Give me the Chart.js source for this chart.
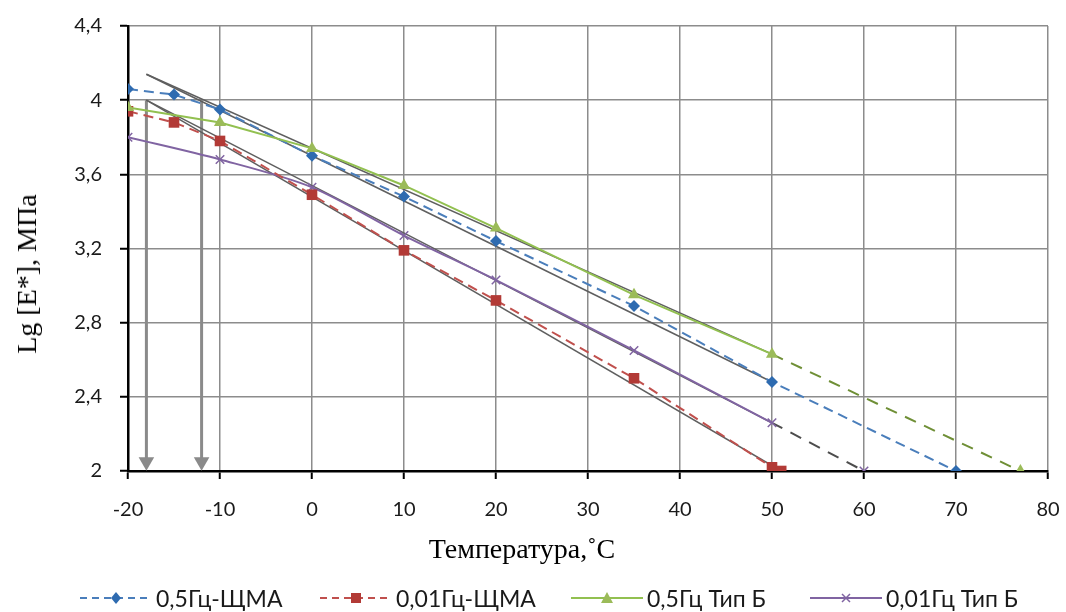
<!DOCTYPE html>
<html>
<head>
<meta charset="utf-8">
<script src="https://cdn.jsdelivr.net/npm/chart.js@4.4.0/dist/chart.umd.min.js"></script>
<style>
  body { margin: 0; background: #fff; }
  #wrap { position: relative; width: 1066px; height: 612px; overflow: hidden; }
  #c { position: absolute; left: 0; top: 0; }
  .ttl { position: absolute; font-family: "Liberation Serif", "Times New Roman", serif; color: #000; white-space: nowrap; }
  #ytitle { left: 27px; top: 274px; font-size: 28px; transform: translate(-50%, -50%) rotate(-90deg); }
  #xtitle { left: 522px; top: 549px; font-size: 28px; transform: translate(-50%, -50%); }
  .lg { position: absolute; top: 585px; height: 26px; display: flex; align-items: center;
        font-family: Lato, "Open Sans", sans-serif; font-size: 23px; color: #1a1a1a; white-space: nowrap; }
  .lg svg { margin-right: 4px; }
</style>
</head>
<body>
<div id="wrap">
  <canvas id="c" width="1066" height="612"></canvas>
  <div class="ttl" id="ytitle">Lg [E*], МПа</div>
  <div class="ttl" id="xtitle">Температура,˚С</div>
  <div id="legend"></div>
</div>
<script>
// Значения
const tempShma05 = [-20, -15, -10, 0, 10, 20, 35, 50, 70];
const lgShma05 = [4.06, 4.03, 3.95, 3.70, 3.48, 3.24, 2.89, 2.48, 2.00];

const tempShma001 = [-20, -15, -10, 0, 10, 20, 35, 50, 51];
const lgShma001 = [3.94, 3.88, 3.78, 3.49, 3.19, 2.92, 2.50, 2.02, 2.00];

const tempTipB05 = [-20, -10, 0, 10, 20, 35, 50, 77];
const lgTipB05 = [3.96, 3.88, 3.74, 3.54, 3.31, 2.95, 2.63, 2.00];

const tempTipB001 = [-20, -10, 0, 10, 20, 35, 50, 60];
const lgTipB001 = [3.80, 3.68, 3.53, 3.27, 3.03, 2.65, 2.26, 2.00];

// линии тренда (начало и конец)
const trendShma05T = [-18, 50];
const trendShma05 = [4.14, 2.48];
const trendShma001T = [-18, 51];
const trendShma001 = [4.00, 2.00];
const trendTipB05T = [-18, 50];
const trendTipB05 = [4.14, 2.63];
const trendTipB001T = [-18, 50];
const trendTipB001 = [4.00, 2.26];

// стрелки вниз
const arrowT = [-18, -12];
const arrowLg = [4.00, 2.05];

const seriesNames = ['0,5Гц-ЩМА', '0,01Гц-ЩМА', '0,5Гц Тип Б', '0,01Гц Тип Б'];
const xTicks = [-20, -10, 0, 10, 20, 30, 40, 50, 60, 70, 80];

const toPts = (xs, ys) => xs.map((x, i) => ({ x: x, y: ys[i] }));
const lastSeg = (n, a, b) => ctx => (ctx.p1DataIndex === n - 1 ? a : b);

const trendStyle = {
  borderColor: '#5f5f5f', borderWidth: 1.5, pointRadius: 0, fill: false, order: 10
};

const datasets = [
  {
    label: seriesNames[0], data: toPts(tempShma05, lgShma05),
    borderColor: '#4a7ebb', backgroundColor: '#2e6bb0', borderWidth: 2, borderDash: [10, 6],
    pointStyle: 'rectRot', pointRadius: 6, pointBorderWidth: 0, order: 1
  },
  {
    label: seriesNames[1], data: toPts(tempShma001, lgShma001),
    borderColor: '#c0504d', backgroundColor: '#b23a36', borderWidth: 2, borderDash: [10, 6],
    pointStyle: 'rect', pointRadius: 7.5, pointBorderWidth: 0, order: 2
  },
  {
    label: seriesNames[2], data: toPts(tempTipB05, lgTipB05),
    borderColor: '#92c050', backgroundColor: '#9bbb59', borderWidth: 2,
    pointStyle: 'triangle', pointRadius: 7, pointBorderWidth: 0, order: 0,
    segment: {
      borderColor: lastSeg(tempTipB05.length, '#6f8f36', undefined),
      borderDash: lastSeg(tempTipB05.length, [12, 9], undefined)
    }
  },
  {
    label: seriesNames[3], data: toPts(tempTipB001, lgTipB001),
    borderColor: '#8064a2', backgroundColor: '#8064a2', pointBorderColor: '#8064a2', borderWidth: 2,
    pointStyle: 'crossRot', pointRadius: 6, pointBorderWidth: 1.5, tension: 0.3, order: 3,
    segment: {
      borderColor: lastSeg(tempTipB001.length, '#4d4d4d', undefined),
      borderDash: lastSeg(tempTipB001.length, [12, 9], undefined)
    }
  },
  Object.assign({ label: 'trend1', data: toPts(trendShma05T, trendShma05) }, trendStyle),
  Object.assign({ label: 'trend2', data: toPts(trendShma001T, trendShma001) }, trendStyle),
  Object.assign({ label: 'trend3', data: toPts(trendTipB05T, trendTipB05) }, trendStyle),
  Object.assign({ label: 'trend4', data: toPts(trendTipB001T, trendTipB001) }, trendStyle)
];

arrowT.forEach((t, i) => {
  datasets.push({
    label: 'arrow' + i,
    data: arrowLg.map(v => ({ x: t, y: v })),
    borderColor: '#8a8a8a', backgroundColor: '#8a8a8a', borderWidth: 3,
    pointStyle: 'triangle', pointRotation: 180, pointRadius: [0, 9], pointBorderWidth: 0,
    order: 20
  });
});

const fmt = v => String(Math.round(v * 10) / 10).replace('.', ',');

new Chart(document.getElementById('c'), {
  type: 'line',
  data: { datasets: datasets },
  options: {
    responsive: false,
    animation: false,
    layout: { padding: { top: 26, right: 18, left: 0, bottom: 0 } },
    plugins: { legend: { display: false }, tooltip: { enabled: false } },
    scales: {
      x: {
        type: 'linear', min: -20, max: 80,
        afterBuildTicks: s => { s.ticks = xTicks.map(v => ({ value: v })); },
        afterFit: s => { s.height = 141; s.paddingLeft = 0; s.paddingRight = 0; },
        ticks: { callback: v => String(v), padding: 19, color: '#1a1a1a', font: { family: 'Lato', size: 20 }, maxRotation: 0 },
        grid: { color: '#8c8c8c', lineWidth: 1.5, tickLength: 8, tickColor: '#000', tickWidth: 2 },
        border: { color: '#000', width: 2.5 }
      },
      y: {
        min: 2, max: 4.4,
        afterFit: s => { s.width = 128; s.paddingTop = 0; s.paddingBottom = 0; },
        ticks: { stepSize: 0.4, callback: fmt, padding: 18, color: '#1a1a1a', font: { family: 'Lato', size: 20 } },
        grid: { color: '#8c8c8c', lineWidth: 1.5, tickLength: 8, tickColor: '#000', tickWidth: 2 },
        border: { color: '#000', width: 2.5 }
      }
    }
  }
});

// легенда
const legendItems = [
  { x: 80, color: '#4a7ebb', mark: '#2e6bb0', dash: '7 5', shape: 'diamond' },
  { x: 320, color: '#c0504d', mark: '#b23a36', dash: '7 5', shape: 'square' },
  { x: 571, color: '#92c050', mark: '#9bbb59', dash: '', shape: 'triangle' },
  { x: 810, color: '#8064a2', mark: '#8064a2', dash: '', shape: 'cross' }
];
const shapes = {
  diamond: c => `<polygon points="36,2 41,8 36,14 31,8" fill="${c}"/>`,
  square: c => `<rect x="31" y="3" width="10" height="10" fill="${c}"/>`,
  triangle: c => `<polygon points="36,2 42,13 30,13" fill="${c}"/>`,
  cross: c => `<path d="M32,4 L40,12 M40,4 L32,12" stroke="${c}" stroke-width="1.5"/>`
};
const lg = document.getElementById('legend');
legendItems.forEach((it, i) => {
  const d = document.createElement('div');
  d.className = 'lg';
  d.style.left = it.x + 'px';
  d.innerHTML = `<svg width="72" height="16"><line x1="0" y1="8" x2="72" y2="8" stroke="${it.color}" stroke-width="2" ${it.dash ? 'stroke-dasharray="' + it.dash + '"' : ''}/>${shapes[it.shape](it.mark)}</svg><span>${seriesNames[i]}</span>`;
  lg.appendChild(d);
});
</script>
</body>
</html>
